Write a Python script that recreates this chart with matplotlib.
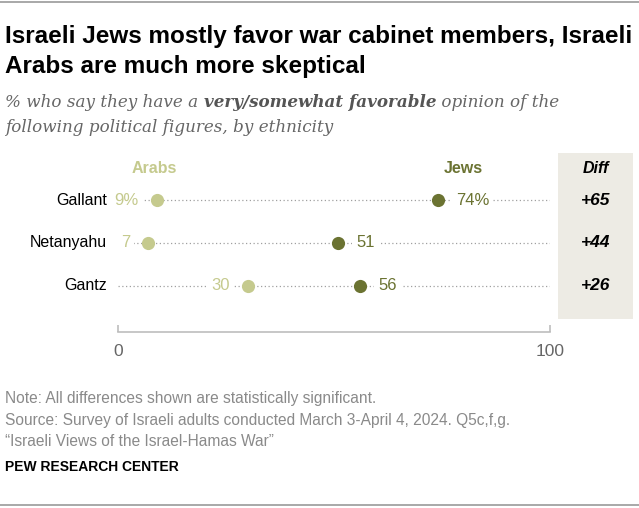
import matplotlib.pyplot as plt
import matplotlib.transforms as mtransforms
from matplotlib.patches import Rectangle
from matplotlib.lines import Line2D

# data
names = ["Gallant", "Netanyahu", "Gantz"]
arabs = [9, 7, 30]
jews = [74, 51, 56]
diffs = [j - a for j, a in zip(jews, arabs)]
ticks = [0, 100]

light = "#c5ca8e"
dark = "#6b7332"
grey_txt = "#8a8a8a"
sans = ["Liberation Sans", "DejaVu Sans"]
narrow = ["Liberation Sans Narrow", "Liberation Sans", "DejaVu Sans"]

W, H = 639, 508
fig = plt.figure(figsize=(W / 100, H / 100), dpi=100)


def px(x, y):
    # figure pixel position (from top left) to figure fraction
    return x / W, 1 - y / H


# thin rules at top and bottom
fig.add_artist(Line2D([0, 1], [1 - 2 / H, 1 - 2 / H], color="#9a9a9a", lw=1.2))
fig.add_artist(Line2D([0, 1], [1 - 505 / H, 1 - 505 / H], color="#9a9a9a", lw=1.2))

# title
fig.text(*px(5, 43), "Israeli Jews mostly favor war cabinet members, Israeli",
         fontsize=17.5, fontweight="bold", family=narrow, va="baseline")
fig.text(*px(5, 73), "Arabs are much more skeptical",
         fontsize=17.5, fontweight="bold", family=narrow, va="baseline")

# subtitle with a bold piece in the middle
serif = ["DejaVu Serif"]
fig.canvas.draw()
r = fig.canvas.get_renderer()
x0 = 5
parts = [("% who say they have a ", "normal", "#666666"),
         ("very/somewhat favorable", "bold", "#555555"),
         (" opinion of the", "normal", "#666666")]
for txt, wt, col in parts:
    t = fig.text(*px(x0, 107), txt, fontsize=12.1, style="italic", fontweight=wt,
                 family=serif, color=col, va="baseline")
    bb = t.get_window_extent(renderer=r)
    x0 += bb.width
fig.text(*px(5, 132), "following political figures, by ethnicity", fontsize=12.1,
         style="italic", family=serif, color="#666666", va="baseline")

# diff column background
fig.add_artist(Rectangle(px(558, 319), 75 / W, 166 / H, transform=fig.transFigure,
                         facecolor="#edebe4", edgecolor="none", zorder=0))

# main axes: x=0 at 118px, x=100 at 550px, bottom spine at 332px
ax = fig.add_axes([118 / W, 1 - 332 / H, 432 / W, 182 / H])
ax.set_xlim(0, 100)
rows = list(range(len(names)))
ax.set_ylim(3.07, -1.163)
ax.patch.set_alpha(0)

for i in rows:
    ax.plot([0, 100], [i, i], color="#a0a0a0", lw=0.9, ls=(0, (1, 2)), zorder=1)
ax.scatter(arabs, rows, s=90, color=light, zorder=3, linewidths=0)
ax.scatter(jews, rows, s=90, color=dark, zorder=3, linewidths=0)

box = dict(facecolor="white", edgecolor="none", pad=3)
for i in rows:
    a_lab = f"{arabs[i]}%" if i == 0 else f"{arabs[i]}"
    j_lab = f"{jews[i]}%" if i == 0 else f"{jews[i]}"
    ax.annotate(a_lab, (arabs[i], i), xytext=(-13, 0), textcoords="offset points",
                ha="right", va="center", fontsize=12, color=light, family=sans,
                bbox=box, zorder=2)
    ax.annotate(j_lab, (jews[i], i), xytext=(13, 0), textcoords="offset points",
                ha="left", va="center", fontsize=12, color=dark, family=sans,
                bbox=box, zorder=2)
    ax.annotate(names[i], (0, i), xytext=(-8, 0), textcoords="offset points",
                ha="right", va="center", fontsize=11.5, color="black", family=sans,
                annotation_clip=False)

# column headers
ax.text(8.3, -0.73, "Arabs", ha="center", va="center", fontsize=11.5,
        fontweight="bold", color=light, family=narrow)
ax.text(80, -0.73, "Jews", ha="center", va="center", fontsize=11.5,
        fontweight="bold", color=dark, family=narrow)

tr = mtransforms.blended_transform_factory(fig.transFigure, ax.transData)
fig.text(596 / W, -0.73, "Diff", transform=tr, ha="center", va="center",
         fontsize=11.5, fontweight="bold", style="italic", family=sans)
for i in rows:
    fig.text(596 / W, i, f"+{diffs[i]}", transform=tr, ha="center", va="center",
             fontsize=12.5, fontweight="bold", style="italic", family=sans)

# axis
for s in ["top", "right", "left"]:
    ax.spines[s].set_visible(False)
ax.spines["bottom"].set_color("#bdbdbd")
ax.spines["bottom"].set_linewidth(1.2)
ax.set_yticks([])
ax.set_xticks(ticks)
ax.tick_params(axis="x", direction="in", length=5, width=1.2, color="#bdbdbd",
               pad=9, labelsize=12.5, labelcolor="#666666")
for lab in ax.get_xticklabels():
    lab.set_family(sans)

# notes
notes = ["Note: All differences shown are statistically significant.",
         "Source: Survey of Israeli adults conducted March 3-April 4, 2024. Q5c,f,g.",
         "\u201cIsraeli Views of the Israel-Hamas War\u201d"]
for k, line in enumerate(notes):
    fig.text(*px(5, 403 + k * 21.5), line, fontsize=11.2, color=grey_txt,
             family=narrow, va="baseline")
fig.text(*px(5, 471), "PEW RESEARCH CENTER", fontsize=10, fontweight="bold",
         family=narrow, va="baseline")

fig.savefig("out.png", dpi=100)
